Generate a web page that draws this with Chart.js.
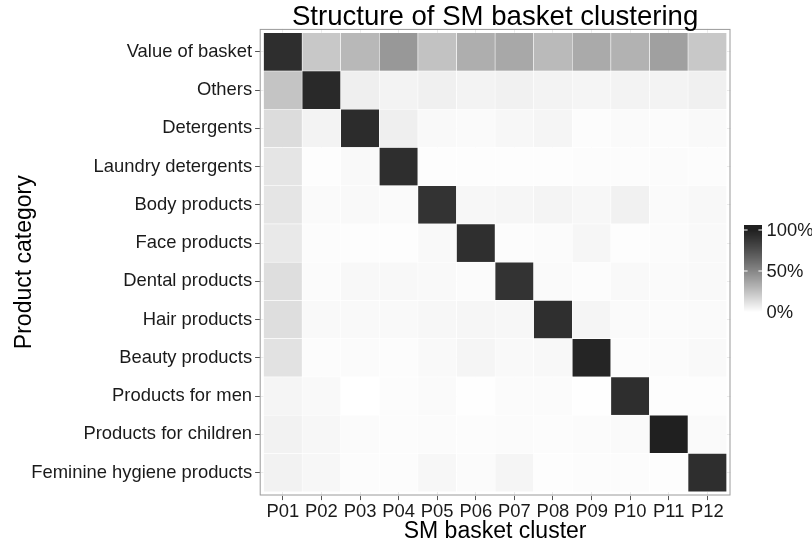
<!DOCTYPE html>
<html><head><meta charset="utf-8">
<script src="https://cdn.jsdelivr.net/npm/chart.js@4.4.1/dist/chart.umd.min.js"></script>
<style>html,body{margin:0;padding:0;background:#fff;}#wrap{width:812px;height:542px;position:relative;}</style>
</head><body><div id="wrap"><canvas id="c" width="812" height="542"></canvas></div>
<script>
const categories = ["Value of basket","Others","Detergents","Laundry detergents","Body products","Face products","Dental products","Hair products","Beauty products","Products for men","Products for children","Feminine hygiene products"];
const clusters = ["P01","P02","P03","P04","P05","P06","P07","P08","P09","P10","P11","P12"];
// share (%) of each product category in each cluster
const valueOfBasket = [92.6,22.2,28.8,42.5,24.7,33.0,35.6,28.0,34.7,31.3,39.0,22.2];
const others        = [23.8,94.8,6.4,4.8,6.0,4.8,5.6,4.8,4.0,4.8,4.8,6.0];
const detergents    = [14.0,4.8,93.7,6.4,2.4,2.0,3.2,4.0,1.2,2.0,1.6,2.4];
const laundry       = [10.4,0.8,2.4,92.6,0.8,0.8,0.8,0.8,1.2,1.2,1.6,1.2];
const body          = [10.4,2.0,2.4,2.0,90.0,3.2,3.6,4.4,3.2,5.6,2.0,2.8];
const face          = [8.7,1.2,0.8,0.8,2.4,92.1,1.2,1.6,3.6,0.8,1.6,2.4];
const dental        = [13.2,1.6,2.8,2.8,2.4,1.6,90.0,2.0,1.2,2.4,2.0,2.4];
const hair          = [13.2,2.4,2.4,2.4,3.2,3.6,3.2,92.1,4.0,2.0,1.6,2.0];
const beauty        = [11.6,1.2,1.6,1.2,2.4,4.0,2.4,2.8,97.0,1.2,1.6,2.4];
const men           = [4.0,2.4,0.0,1.2,2.0,0.4,1.6,1.6,0.4,92.6,0.8,0.8];
const children      = [5.2,3.2,1.6,1.2,1.6,1.2,1.6,1.2,1.6,2.0,100.0,2.0];
const feminine      = [5.2,3.2,1.2,1.2,3.2,1.6,4.0,0.8,1.2,1.2,0.8,92.6];
const values = [valueOfBasket,others,detergents,laundry,body,face,dental,hair,beauty,men,children,feminine];
const legendBreaks = [0,50,100];
const legendLabels = ["0%","50%","100%"];

const FONT = "'Liberation Sans', Arial, Helvetica, sans-serif";
const nRows = categories.length;

function shade(v){
  const t = Math.max(0, Math.min(100, v)) / 100;
  const L = 100 - t * 87.75;
  let Y = L > 8 ? Math.pow((L + 16) / 116, 3) : L / 903.3;
  const c = Y <= 0.0031308 ? 12.92 * Y : 1.055 * Math.pow(Y, 1/2.4) - 0.055;
  const g = Math.round(Math.max(0, Math.min(1, c)) * 255);
  return 'rgb(' + g + ',' + g + ',' + g + ')';
}

const points = [];
values.forEach((row, r) => {
  const yPos = nRows - 1 - r;
  row.forEach((v, c) => points.push({x: c, y: [yPos - 0.5, yPos + 0.5], v: v}));
});

const decor = {
  id: 'decor',
  afterDraw(chart){
    const ctx = chart.ctx, a = chart.chartArea;
    ctx.save();
    // panel border
    ctx.strokeStyle = '#9a9a9a'; ctx.lineWidth = 1;
    ctx.strokeRect(a.left + 0.5, a.top + 0.5, a.right - a.left - 1, a.bottom - a.top - 1);
    const cx = (a.left + a.right) / 2, cy = (a.top + a.bottom) / 2;
    ctx.fillStyle = '#000'; ctx.textAlign = 'center'; ctx.textBaseline = 'alphabetic';
    ctx.font = '27.6px ' + FONT;
    ctx.fillText('Structure of SM basket clustering', cx, 24.5);
    ctx.font = '23px ' + FONT;
    ctx.fillText('SM basket cluster', cx, 537.5);
    ctx.save(); ctx.translate(31, cy); ctx.rotate(-Math.PI/2);
    ctx.fillText('Product category', 0, 0); ctx.restore();
    // colour bar
    const bx = 744, bw = 18, yTop = 225, yBot = 313, y0 = 312, pxPer = 0.82;
    for (let y = yTop; y < yBot; y++) {
      ctx.fillStyle = shade((y0 - (y + 0.5)) / pxPer);
      ctx.fillRect(bx, y, bw, 1);
    }
    ctx.strokeStyle = '#fff'; ctx.lineWidth = 1;
    ctx.font = '18.4px ' + FONT; ctx.textAlign = 'left'; ctx.textBaseline = 'middle';
    legendBreaks.forEach((b, i) => {
      const y = y0 - b * pxPer;
      ctx.beginPath();
      ctx.moveTo(bx, y); ctx.lineTo(bx + bw/5, y);
      ctx.moveTo(bx + bw - bw/5, y); ctx.lineTo(bx + bw, y);
      ctx.stroke();
      ctx.fillStyle = '#1a1a1a';
      ctx.fillText(legendLabels[i], 766.5, y + 1);
    });
    ctx.restore();
  }
};

new Chart(document.getElementById('c'), {
  type: 'bar',
  data: { datasets: [{
    data: points,
    backgroundColor: (c) => c.raw ? shade(c.raw.v) : '#fff',
    borderColor: '#ffffff',
    borderWidth: 0.6,
    borderSkipped: false,
    barPercentage: 1,
    categoryPercentage: 1
  }]},
  options: {
    responsive: false,
    animation: false,
    layout: { padding: { top: 28.9, right: 81.5, left: 0, bottom: 0 } },
    plugins: { legend: { display: false }, tooltip: { enabled: false }, title: { display: false } },
    scales: {
      x: {
        type: 'linear', min: -0.6, max: 11.6, offset: false,
        afterBuildTicks: (s) => { s.ticks = clusters.map((_, i) => ({ value: i })); },
        afterFit: (s) => { s.height = 46.5; },
        ticks: { callback: (v) => clusters[v], font: { family: FONT, size: 18.4 }, color: '#1a1a1a', padding: 1, maxRotation: 0, autoSkip: false },
        grid: { color: '#ebebeb', tickColor: '#555555', tickLength: 4.6, lineWidth: 1, offset: false },
        border: { display: false }
      },
      y: {
        type: 'linear', min: -0.6, max: 11.6, offset: false,
        afterBuildTicks: (s) => { s.ticks = categories.map((_, i) => ({ value: i })); },
        afterFit: (s) => { s.width = 259.7; },
        ticks: { callback: (v) => categories[nRows - 1 - v], font: { family: FONT, size: 18.4 }, color: '#1a1a1a', padding: 3, autoSkip: false },
        grid: { color: '#ebebeb', tickColor: '#555555', tickLength: 4.6, lineWidth: 1, offset: false },
        border: { display: false }
      }
    }
  },
  plugins: [decor]
});
</script></body></html>
